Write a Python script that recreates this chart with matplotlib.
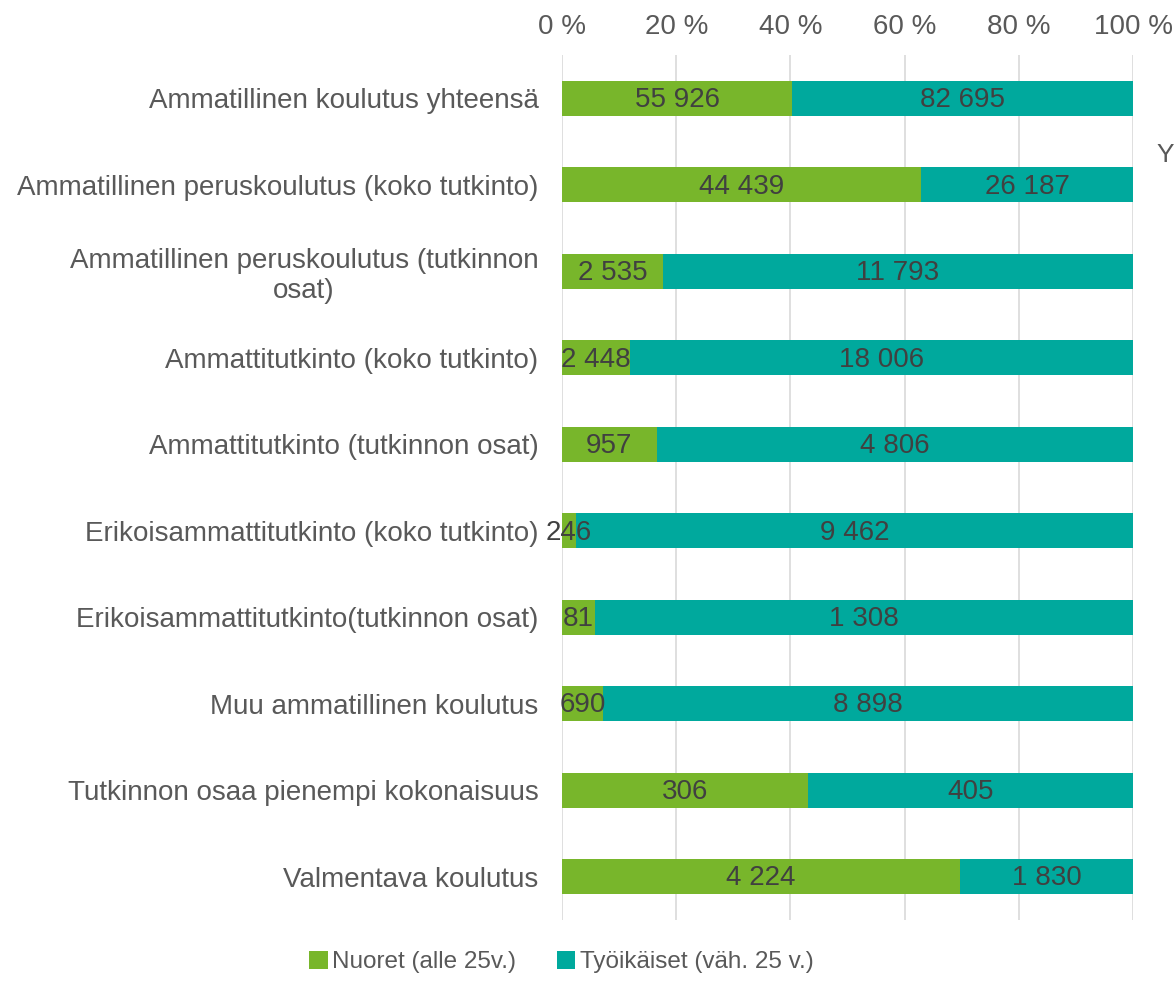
import numpy as np
import matplotlib.pyplot as plt

plt.rcParams['font.family'] = ['Liberation Sans', 'DejaVu Sans']

# ******************************* DATA *******************************
categories = [
    'Ammatillinen koulutus yhteensä',
    'Ammatillinen peruskoulutus (koko tutkinto)',
    'Ammatillinen peruskoulutus (tutkinnon\nosat)',
    'Ammattitutkinto (koko tutkinto)',
    'Ammattitutkinto (tutkinnon osat)',
    'Erikoisammattitutkinto (koko tutkinto)',
    'Erikoisammattitutkinto(tutkinnon osat)',
    'Muu ammatillinen koulutus',
    'Tutkinnon osaa pienempi kokonaisuus',
    'Valmentava koulutus',
]
nuoret = [55926, 44439, 2535, 2448, 957, 246, 81, 690, 306, 4224]
tyoikaiset = [82695, 26187, 11793, 18006, 4806, 9462, 1308, 8898, 405, 1830]
series_names = ['Nuoret (alle 25v.)', 'Työikäiset (väh. 25 v.)']
xticks = [0, 20, 40, 60, 80, 100]

GREEN = '#78B62B'
TEAL = '#00A99D'
TXT = '#595959'

def fmt(n):
    # tuhaterotin valilyonnilla
    return f'{n:,}'.replace(',', ' ')

# ******************************* PLOT *******************************
n = np.array(nuoret, dtype=float)
t = np.array(tyoikaiset, dtype=float)
tot = n + t
pn = n / tot * 100
pt = t / tot * 100
y = np.arange(len(categories))

fig = plt.figure(figsize=(11.75, 9.9), dpi=100)
ax = fig.add_axes([0.4783, 0.0707, 0.486, 0.8737])

b1 = ax.barh(y, pn, height=0.4, color=GREEN, label=series_names[0], zorder=3)
b2 = ax.barh(y, pt, left=pn, height=0.4, color=TEAL, label=series_names[1], zorder=3)

for i in range(len(categories)):
    ax.text(pn[i] / 2, y[i] + 0.02, fmt(nuoret[i]), ha='center', va='center',
            fontsize=20, color='#404040', zorder=4)
    ax.text(pn[i] + pt[i] / 2, y[i] + 0.02, fmt(tyoikaiset[i]), ha='center', va='center',
            fontsize=20, color='#404040', zorder=4)

ax.set_xlim(0, 100)
ax.set_ylim(len(categories) - 0.5, -0.5)
ax.set_xticks(xticks)
ax.set_xticklabels([f'{v} %' for v in xticks])
ax.xaxis.tick_top()
ax.set_yticks(y)
ax.set_yticklabels(categories)
ax.tick_params(axis='both', length=0, labelsize=20, colors=TXT)
ax.tick_params(axis='x', pad=11)
ax.tick_params(axis='y', pad=17)
for lbl in ax.get_yticklabels():
    lbl.set_multialignment('center')
ax.grid(axis='x', color='#D9D9D9', linewidth=1.2, zorder=0)
for s in ax.spines.values():
    s.set_visible(False)

# katkennut teksti oikeassa reunassa
fig.text(0.984, 0.843, 'Y', fontsize=19, color=TXT, ha='left', va='center')

fig.legend(handles=[b1, b2], labels=series_names, loc='center',
           bbox_to_anchor=(0.478, 0.028), ncol=2, frameon=False, fontsize=17.5,
           labelcolor=TXT, handlelength=0.75, handleheight=0.75,
           handletextpad=0.2, columnspacing=1.67)

plt.savefig('out.png', dpi=100)
